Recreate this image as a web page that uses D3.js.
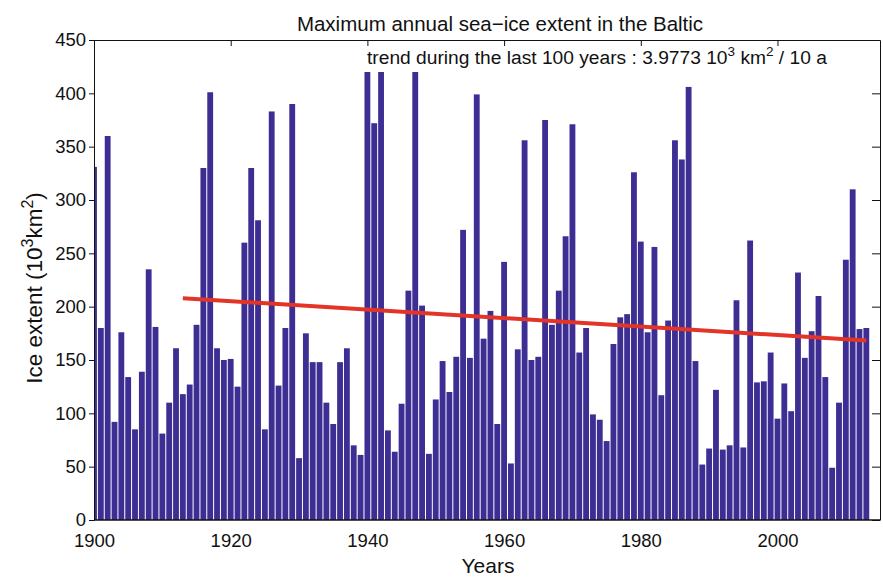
<!DOCTYPE html>
<html>
<head>
  <meta charset="utf-8">
  <title>Baltic sea-ice</title>
  <style>
    body { margin: 0; background: #fff; }
    svg { font-family: "Liberation Sans", Arial, Helvetica, sans-serif; }
    .tick text { font-size: 18.5px; fill: #111; }
    .axis path, .axis line { stroke: #111; }
  </style>
  <script src="https://cdn.jsdelivr.net/npm/d3@7"></script>
</head>
<body>
<svg id="chart" width="883" height="577"></svg>
<script>
// years 1900..2013, one bar per winter
var years = d3.range(1900, 2014);
var iceExtent = [
  331, 180, 360, 92, 176, 134, 85, 139, 235, 181,
  81, 110, 161, 118, 127, 183, 330, 401, 161, 150,
  151, 125, 260, 330, 281, 85, 383, 126, 180, 390,
  58, 175, 148, 148, 110, 90, 148, 161, 70, 61,
  420, 372, 420, 84, 64, 109, 215, 420, 201, 62,
  113, 149, 120, 153, 272, 152, 399, 170, 196, 90,
  242, 53, 160, 356, 150, 153, 375, 183, 215, 266,
  371, 157, 180, 99, 94, 74, 165, 190, 193, 326,
  261, 176, 256, 117, 187, 356, 338, 406, 149, 52,
  67, 122, 66, 70, 206, 68, 262, 129, 130, 157,
  95, 128, 102, 232, 152, 177, 210, 134, 49, 110,
  244, 310, 179, 180
];
// linear trend over the last 100 years
var trendYears = [1913, 2013];
var trendValues = [208, 168.2];
var xTicks = [1900, 1920, 1940, 1960, 1980, 2000];
var yTicks = [0, 50, 100, 150, 200, 250, 300, 350, 400, 450];

var margin = {top: 40, right: 3, bottom: 57, left: 94};
var W = 883 - margin.left - margin.right,
    H = 577 - margin.top - margin.bottom;

var svg = d3.select("#chart");
var g = svg.append("g").attr("transform", "translate(" + margin.left + "," + margin.top + ")");

var x = d3.scaleLinear().domain([1900, 2015]).range([0, W]);
var y = d3.scaleLinear().domain([0, 450]).range([H, 0]);
var step = x(1901) - x(1900);

svg.append("defs").append("clipPath").attr("id", "plotclip")
  .append("rect").attr("width", W).attr("height", H);

// bottom axis (ticks point inward, mostly hidden by bars)
g.append("g").attr("class", "axis")
    .attr("transform", "translate(0," + H + ")")
    .call(d3.axisBottom(x).tickValues(xTicks).tickFormat(d3.format("d"))
      .tickSizeInner(-6).tickSizeOuter(0).tickPadding(14))
    .select(".domain").remove();

// bars
g.append("g").attr("clip-path", "url(#plotclip)")
  .selectAll("rect")
  .data(years)
  .enter().append("rect")
    .attr("x", function(d) { return x(d - 0.5) + 0.5; })
    .attr("width", step - 1)
    .attr("y", function(d, i) { return y(iceExtent[i]); })
    .attr("height", function(d, i) { return H - y(iceExtent[i]); })
    .attr("fill", "#3d2e94");

// frame + other ticks
g.append("g").attr("class", "axis")
    .call(d3.axisTop(x).tickValues(xTicks).tickFormat("").tickSizeInner(-6).tickSizeOuter(0));
g.append("g").attr("class", "axis")
    .attr("transform", "translate(" + W + ",0)")
    .call(d3.axisRight(y).tickValues(yTicks).tickFormat("").tickSizeInner(-8).tickSizeOuter(0));
g.append("g").attr("class", "axis")
    .call(d3.axisLeft(y).tickValues(yTicks).tickSizeInner(5).tickSizeOuter(0).tickPadding(3));
g.append("line").attr("x1", 0).attr("x2", W).attr("y1", H).attr("y2", H)
    .attr("stroke", "#111").attr("stroke-width", 1.6);

// trend line
g.append("line")
    .attr("x1", x(trendYears[0])).attr("y1", y(trendValues[0]))
    .attr("x2", x(trendYears[1])).attr("y2", y(trendValues[1]))
    .attr("stroke", "#e23427").attr("stroke-width", 4);

// texts
svg.append("text").attr("x", 500).attr("y", 31)
    .attr("text-anchor", "middle").style("font-size", "20.5px").attr("fill", "#111")
    .text("Maximum annual sea\u2212ice extent in the Baltic");

var tr = svg.append("text").attr("x", 367).attr("y", 64)
    .style("font-size", "19.2px").attr("fill", "#111");
tr.append("tspan").text("trend during the last 100 years : 3.9773 10");
tr.append("tspan").attr("dy", -8).style("font-size", "13.5px").text("3");
tr.append("tspan").attr("dy", 8).text(" km");
tr.append("tspan").attr("dy", -8).style("font-size", "13.5px").text("2");
tr.append("tspan").attr("dy", 8).text(" / 10 a");

svg.append("text").attr("x", 488).attr("y", 573)
    .attr("text-anchor", "middle").style("font-size", "21px").attr("fill", "#111")
    .text("Years");

var yl = svg.append("text")
    .attr("transform", "translate(42,288) rotate(-90)")
    .attr("text-anchor", "middle").style("font-size", "22.5px").attr("fill", "#111");
yl.append("tspan").text("Ice extent (10");
yl.append("tspan").attr("dy", -9).style("font-size", "16px").text("3");
yl.append("tspan").attr("dy", 9).text("km");
yl.append("tspan").attr("dy", -9).style("font-size", "16px").text("2");
yl.append("tspan").attr("dy", 9).text(")");
</script>
</body>
</html>
